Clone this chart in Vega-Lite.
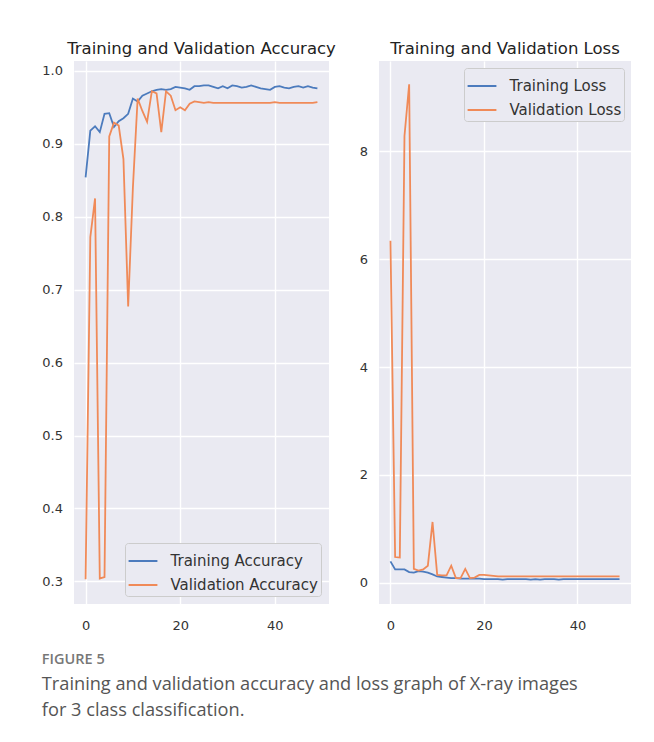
{
  "$schema": "https://vega.github.io/schema/vega-lite/v6.json",
  "background": "white",
  "padding": {"left": 41, "top": 40, "right": 0, "bottom": 30},
  "datasets": {
    "acc": [
      {"epoch":0,"series":"Training Accuracy","value":0.854},{"epoch":1,"series":"Training Accuracy","value":0.918},{"epoch":2,"series":"Training Accuracy","value":0.924},{"epoch":3,"series":"Training Accuracy","value":0.916},{"epoch":4,"series":"Training Accuracy","value":0.941},{"epoch":5,"series":"Training Accuracy","value":0.942},{"epoch":6,"series":"Training Accuracy","value":0.923},{"epoch":7,"series":"Training Accuracy","value":0.931},{"epoch":8,"series":"Training Accuracy","value":0.935},{"epoch":9,"series":"Training Accuracy","value":0.941},
      {"epoch":10,"series":"Training Accuracy","value":0.962},{"epoch":11,"series":"Training Accuracy","value":0.958},{"epoch":12,"series":"Training Accuracy","value":0.966},{"epoch":13,"series":"Training Accuracy","value":0.969},{"epoch":14,"series":"Training Accuracy","value":0.972},{"epoch":15,"series":"Training Accuracy","value":0.974},{"epoch":16,"series":"Training Accuracy","value":0.975},{"epoch":17,"series":"Training Accuracy","value":0.974},{"epoch":18,"series":"Training Accuracy","value":0.975},{"epoch":19,"series":"Training Accuracy","value":0.978},
      {"epoch":20,"series":"Training Accuracy","value":0.977},{"epoch":21,"series":"Training Accuracy","value":0.976},{"epoch":22,"series":"Training Accuracy","value":0.974},{"epoch":23,"series":"Training Accuracy","value":0.979},{"epoch":24,"series":"Training Accuracy","value":0.979},{"epoch":25,"series":"Training Accuracy","value":0.980},{"epoch":26,"series":"Training Accuracy","value":0.980},{"epoch":27,"series":"Training Accuracy","value":0.978},{"epoch":28,"series":"Training Accuracy","value":0.976},{"epoch":29,"series":"Training Accuracy","value":0.979},
      {"epoch":30,"series":"Training Accuracy","value":0.976},{"epoch":31,"series":"Training Accuracy","value":0.980},{"epoch":32,"series":"Training Accuracy","value":0.979},{"epoch":33,"series":"Training Accuracy","value":0.977},{"epoch":34,"series":"Training Accuracy","value":0.978},{"epoch":35,"series":"Training Accuracy","value":0.980},{"epoch":36,"series":"Training Accuracy","value":0.978},{"epoch":37,"series":"Training Accuracy","value":0.976},{"epoch":38,"series":"Training Accuracy","value":0.975},{"epoch":39,"series":"Training Accuracy","value":0.974},
      {"epoch":40,"series":"Training Accuracy","value":0.978},{"epoch":41,"series":"Training Accuracy","value":0.979},{"epoch":42,"series":"Training Accuracy","value":0.977},{"epoch":43,"series":"Training Accuracy","value":0.976},{"epoch":44,"series":"Training Accuracy","value":0.978},{"epoch":45,"series":"Training Accuracy","value":0.979},{"epoch":46,"series":"Training Accuracy","value":0.977},{"epoch":47,"series":"Training Accuracy","value":0.979},{"epoch":48,"series":"Training Accuracy","value":0.977},{"epoch":49,"series":"Training Accuracy","value":0.976},
      {"epoch":0,"series":"Validation Accuracy","value":0.303},{"epoch":1,"series":"Validation Accuracy","value":0.772},{"epoch":2,"series":"Validation Accuracy","value":0.825},{"epoch":3,"series":"Validation Accuracy","value":0.304},{"epoch":4,"series":"Validation Accuracy","value":0.306},{"epoch":5,"series":"Validation Accuracy","value":0.910},{"epoch":6,"series":"Validation Accuracy","value":0.929},{"epoch":7,"series":"Validation Accuracy","value":0.925},{"epoch":8,"series":"Validation Accuracy","value":0.879},{"epoch":9,"series":"Validation Accuracy","value":0.677},
      {"epoch":10,"series":"Validation Accuracy","value":0.84},{"epoch":11,"series":"Validation Accuracy","value":0.962},{"epoch":12,"series":"Validation Accuracy","value":0.945},{"epoch":13,"series":"Validation Accuracy","value":0.930},{"epoch":14,"series":"Validation Accuracy","value":0.972},{"epoch":15,"series":"Validation Accuracy","value":0.969},{"epoch":16,"series":"Validation Accuracy","value":0.916},{"epoch":17,"series":"Validation Accuracy","value":0.972},{"epoch":18,"series":"Validation Accuracy","value":0.966},{"epoch":19,"series":"Validation Accuracy","value":0.946},
      {"epoch":20,"series":"Validation Accuracy","value":0.950},{"epoch":21,"series":"Validation Accuracy","value":0.946},{"epoch":22,"series":"Validation Accuracy","value":0.955},{"epoch":23,"series":"Validation Accuracy","value":0.958},{"epoch":24,"series":"Validation Accuracy","value":0.957},{"epoch":25,"series":"Validation Accuracy","value":0.956},{"epoch":26,"series":"Validation Accuracy","value":0.957},{"epoch":27,"series":"Validation Accuracy","value":0.956},{"epoch":28,"series":"Validation Accuracy","value":0.956},{"epoch":29,"series":"Validation Accuracy","value":0.956},
      {"epoch":30,"series":"Validation Accuracy","value":0.956},{"epoch":31,"series":"Validation Accuracy","value":0.956},{"epoch":32,"series":"Validation Accuracy","value":0.956},{"epoch":33,"series":"Validation Accuracy","value":0.956},{"epoch":34,"series":"Validation Accuracy","value":0.956},{"epoch":35,"series":"Validation Accuracy","value":0.956},{"epoch":36,"series":"Validation Accuracy","value":0.956},{"epoch":37,"series":"Validation Accuracy","value":0.956},{"epoch":38,"series":"Validation Accuracy","value":0.956},{"epoch":39,"series":"Validation Accuracy","value":0.956},
      {"epoch":40,"series":"Validation Accuracy","value":0.957},{"epoch":41,"series":"Validation Accuracy","value":0.956},{"epoch":42,"series":"Validation Accuracy","value":0.956},{"epoch":43,"series":"Validation Accuracy","value":0.956},{"epoch":44,"series":"Validation Accuracy","value":0.956},{"epoch":45,"series":"Validation Accuracy","value":0.956},{"epoch":46,"series":"Validation Accuracy","value":0.956},{"epoch":47,"series":"Validation Accuracy","value":0.956},{"epoch":48,"series":"Validation Accuracy","value":0.956},{"epoch":49,"series":"Validation Accuracy","value":0.957}
    ],
    "loss": [
      {"epoch":0,"series":"Training Loss","value":0.40},{"epoch":1,"series":"Training Loss","value":0.25},{"epoch":2,"series":"Training Loss","value":0.25},{"epoch":3,"series":"Training Loss","value":0.25},{"epoch":4,"series":"Training Loss","value":0.20},{"epoch":5,"series":"Training Loss","value":0.19},{"epoch":6,"series":"Training Loss","value":0.22},{"epoch":7,"series":"Training Loss","value":0.21},{"epoch":8,"series":"Training Loss","value":0.19},{"epoch":9,"series":"Training Loss","value":0.16},
      {"epoch":10,"series":"Training Loss","value":0.12},{"epoch":11,"series":"Training Loss","value":0.11},{"epoch":12,"series":"Training Loss","value":0.10},{"epoch":13,"series":"Training Loss","value":0.09},{"epoch":14,"series":"Training Loss","value":0.09},{"epoch":15,"series":"Training Loss","value":0.08},{"epoch":16,"series":"Training Loss","value":0.08},{"epoch":17,"series":"Training Loss","value":0.08},{"epoch":18,"series":"Training Loss","value":0.08},{"epoch":19,"series":"Training Loss","value":0.08},
      {"epoch":20,"series":"Training Loss","value":0.07},{"epoch":21,"series":"Training Loss","value":0.07},{"epoch":22,"series":"Training Loss","value":0.07},{"epoch":23,"series":"Training Loss","value":0.07},{"epoch":24,"series":"Training Loss","value":0.06},{"epoch":25,"series":"Training Loss","value":0.07},{"epoch":26,"series":"Training Loss","value":0.07},{"epoch":27,"series":"Training Loss","value":0.07},{"epoch":28,"series":"Training Loss","value":0.07},{"epoch":29,"series":"Training Loss","value":0.07},
      {"epoch":30,"series":"Training Loss","value":0.06},{"epoch":31,"series":"Training Loss","value":0.07},{"epoch":32,"series":"Training Loss","value":0.06},{"epoch":33,"series":"Training Loss","value":0.07},{"epoch":34,"series":"Training Loss","value":0.07},{"epoch":35,"series":"Training Loss","value":0.07},{"epoch":36,"series":"Training Loss","value":0.06},{"epoch":37,"series":"Training Loss","value":0.07},{"epoch":38,"series":"Training Loss","value":0.07},{"epoch":39,"series":"Training Loss","value":0.07},
      {"epoch":40,"series":"Training Loss","value":0.07},{"epoch":41,"series":"Training Loss","value":0.07},{"epoch":42,"series":"Training Loss","value":0.07},{"epoch":43,"series":"Training Loss","value":0.07},{"epoch":44,"series":"Training Loss","value":0.07},{"epoch":45,"series":"Training Loss","value":0.07},{"epoch":46,"series":"Training Loss","value":0.07},{"epoch":47,"series":"Training Loss","value":0.07},{"epoch":48,"series":"Training Loss","value":0.07},{"epoch":49,"series":"Training Loss","value":0.07},
      {"epoch":0,"series":"Validation Loss","value":6.34},{"epoch":1,"series":"Validation Loss","value":0.48},{"epoch":2,"series":"Validation Loss","value":0.47},{"epoch":3,"series":"Validation Loss","value":8.28},{"epoch":4,"series":"Validation Loss","value":9.24},{"epoch":5,"series":"Validation Loss","value":0.26},{"epoch":6,"series":"Validation Loss","value":0.23},{"epoch":7,"series":"Validation Loss","value":0.25},{"epoch":8,"series":"Validation Loss","value":0.32},{"epoch":9,"series":"Validation Loss","value":1.13},
      {"epoch":10,"series":"Validation Loss","value":0.15},{"epoch":11,"series":"Validation Loss","value":0.14},{"epoch":12,"series":"Validation Loss","value":0.14},{"epoch":13,"series":"Validation Loss","value":0.32},{"epoch":14,"series":"Validation Loss","value":0.09},{"epoch":15,"series":"Validation Loss","value":0.09},{"epoch":16,"series":"Validation Loss","value":0.26},{"epoch":17,"series":"Validation Loss","value":0.09},{"epoch":18,"series":"Validation Loss","value":0.10},{"epoch":19,"series":"Validation Loss","value":0.15},
      {"epoch":20,"series":"Validation Loss","value":0.15},{"epoch":21,"series":"Validation Loss","value":0.14},{"epoch":22,"series":"Validation Loss","value":0.13},{"epoch":23,"series":"Validation Loss","value":0.12},{"epoch":24,"series":"Validation Loss","value":0.12},{"epoch":25,"series":"Validation Loss","value":0.12},{"epoch":26,"series":"Validation Loss","value":0.12},{"epoch":27,"series":"Validation Loss","value":0.12},{"epoch":28,"series":"Validation Loss","value":0.12},{"epoch":29,"series":"Validation Loss","value":0.12},
      {"epoch":30,"series":"Validation Loss","value":0.12},{"epoch":31,"series":"Validation Loss","value":0.12},{"epoch":32,"series":"Validation Loss","value":0.12},{"epoch":33,"series":"Validation Loss","value":0.12},{"epoch":34,"series":"Validation Loss","value":0.12},{"epoch":35,"series":"Validation Loss","value":0.12},{"epoch":36,"series":"Validation Loss","value":0.12},{"epoch":37,"series":"Validation Loss","value":0.12},{"epoch":38,"series":"Validation Loss","value":0.12},{"epoch":39,"series":"Validation Loss","value":0.12},
      {"epoch":40,"series":"Validation Loss","value":0.12},{"epoch":41,"series":"Validation Loss","value":0.12},{"epoch":42,"series":"Validation Loss","value":0.12},{"epoch":43,"series":"Validation Loss","value":0.12},{"epoch":44,"series":"Validation Loss","value":0.12},{"epoch":45,"series":"Validation Loss","value":0.12},{"epoch":46,"series":"Validation Loss","value":0.12},{"epoch":47,"series":"Validation Loss","value":0.12},{"epoch":48,"series":"Validation Loss","value":0.12},{"epoch":49,"series":"Validation Loss","value":0.12}
    ]
  },
  "title": {
    "text": "FIGURE 5",
    "subtitle": ["Training and validation accuracy and loss graph of X-ray images", "for 3 class classification."],
    "orient": "bottom",
    "anchor": "start",
    "frame": "bounds",
    "offset": 20,
    "font": "Open Sans",
    "fontSize": 14.5,
    "fontWeight": 600,
    "color": "#777777",
    "subtitleFont": "Open Sans",
    "subtitleFontSize": 18.2,
    "subtitleColor": "#555555",
    "subtitleLineHeight": 25.5,
    "subtitlePadding": 9
  },
  "hconcat": [
    {
      "width": 255,
      "height": 543,
      "data": {"name": "acc"},
      "title": {"text": "Training and Validation Accuracy"},
      "mark": {"type": "line", "strokeWidth": 1.8, "clip": true},
      "encoding": {
        "x": {"field": "epoch", "type": "quantitative", "scale": {"domain": [-2.45, 51.45], "nice": false, "zero": false},
              "axis": {"values": [0, 20, 40], "title": null}},
        "y": {"field": "value", "type": "quantitative", "scale": {"domain": [0.269, 1.0135], "nice": false, "zero": false},
              "axis": {"values": [0.3, 0.4, 0.5, 0.6, 0.7, 0.8, 0.9, 1.0], "format": ".1f", "title": null}},
        "color": {"field": "series", "type": "nominal",
                  "scale": {"domain": ["Training Accuracy", "Validation Accuracy"], "range": ["#4c7bbd", "#f08a58"]},
                  "legend": {"orient": "bottom-right", "offset": 8}}
      }
    },
    {
      "width": 252,
      "height": 543,
      "data": {"name": "loss"},
      "title": {"text": "Training and Validation Loss"},
      "mark": {"type": "line", "strokeWidth": 1.8, "clip": true},
      "encoding": {
        "x": {"field": "epoch", "type": "quantitative", "scale": {"domain": [-2.45, 51.45], "nice": false, "zero": false},
              "axis": {"values": [0, 20, 40], "title": null}},
        "y": {"field": "value", "type": "quantitative", "scale": {"domain": [-0.39, 9.67], "nice": false, "zero": false},
              "axis": {"values": [0, 2, 4, 6, 8], "title": null}},
        "color": {"field": "series", "type": "nominal",
                  "scale": {"domain": ["Training Loss", "Validation Loss"], "range": ["#4c7bbd", "#f08a58"]},
                  "legend": {"orient": "top-right", "offset": 7}}
      }
    }
  ],
  "spacing": 50,
  "bounds": "flush",
  "resolve": {"scale": {"color": "independent", "y": "independent"}, "legend": {"color": "independent"}},
  "config": {
    "view": {"fill": "#eaeaf2", "stroke": null},
    "axis": {
      "domain": false, "ticks": false, "grid": true, "gridColor": "#ffffff", "gridWidth": 1.4,
      "labelFont": "DejaVu Sans", "labelFontSize": 13, "labelColor": "#333333"
    },
    "axisX": {"labelPadding": 15.5},
    "axisY": {"labelPadding": 11.5},
    "title": {"font": "DejaVu Sans", "fontSize": 16.5, "fontWeight": "normal", "color": "#222222", "offset": 4},
    "legend": {
      "title": null, "symbolType": "stroke", "symbolStrokeWidth": 2, "symbolSize": 830,
      "labelFont": "DejaVu Sans", "labelFontSize": 15, "labelColor": "#333333", "labelOffset": 12,
      "fillColor": "#eaeaf2", "strokeColor": "#cccccc", "cornerRadius": 3, "padding": 2.5, "rowPadding": 0
    }
  }
}
